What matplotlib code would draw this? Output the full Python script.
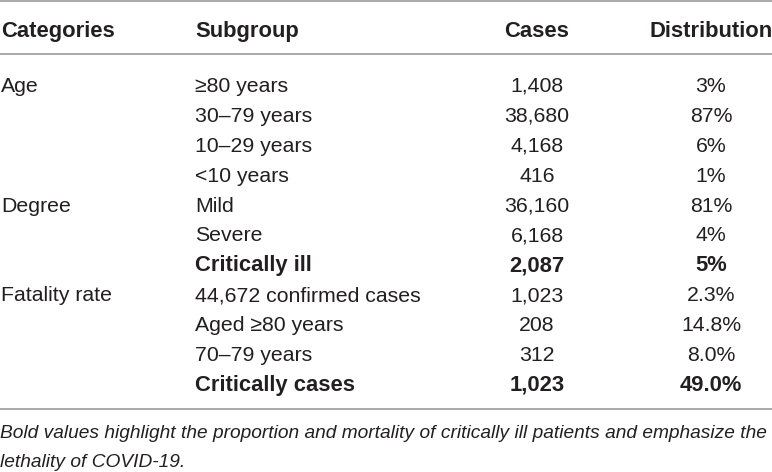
import matplotlib
matplotlib.use('Agg')
import matplotlib.pyplot as plt
from matplotlib import font_manager

# Table content
headers = ['Categories', 'Subgroup', 'Cases', 'Distribution']
categories = ['Age', '', '', '', 'Degree', '', '', 'Fatality rate', '', '', '']
subgroups = ['≥80 years', '30–79 years', '10–29 years', '<10 years',
             'Mild', 'Severe', 'Critically ill',
             '44,672 confirmed cases', 'Aged ≥80 years', '70–79 years', 'Critically cases']
cases = ['1,408', '38,680', '4,168', '416', '36,160', '6,168', '2,087',
         '1,023', '208', '312', '1,023']
distribution = ['3%', '87%', '6%', '1%', '81%', '4%', '5%',
                '2.3%', '14.8%', '8.0%', '49.0%']
bold_rows = [6, 10]
footnote = ['Bold values highlight the proportion and mortality of critically ill patients and emphasize the',
            'lethality of COVID-19.']

names = {f.name for f in font_manager.fontManager.ttflist}
body_font = 'Liberation Sans'
note_font = 'Liberation Sans Narrow' if 'Liberation Sans Narrow' in names else 'Liberation Sans'

txt_clr = '#231f20'
rule_clr = '#a3a3a3'
fs = 15.3      # regular body text
fs_b = 15.8    # bold text

W, H = 772, 472
fig = plt.figure(figsize=(W / 100, H / 100), dpi=100)
ax = fig.add_axes([0, 0, 1, 1])
ax.set_xlim(0, W)
ax.set_ylim(H, 0)
ax.axis('off')

# columns: x position and alignment
col_x = [1, 195, 537, 711]
col_ha = ['left', 'left', 'center', 'center']

# rules
for y in [1, 54, 409]:
    ax.plot([0, W], [y, y], color=rule_clr, lw=1.3, solid_capstyle='butt')

# header
for x, ha, h in zip(col_x, col_ha, headers):
    ax.text(x, 36.7, h, ha=ha, va='baseline', fontsize=fs_b, fontweight='bold',
            family=body_font, color=txt_clr)

# body rows
y0, dy = 92.0, 29.88
for i in range(len(subgroups)):
    y = y0 + i * dy
    bold = i in bold_rows
    ax.text(col_x[0], y, categories[i], ha='left', va='baseline', fontsize=fs,
            family=body_font, color=txt_clr)
    for x, ha, val in zip(col_x[1:], col_ha[1:], [subgroups[i], cases[i], distribution[i]]):
        ax.text(x, y, val, ha=ha, va='baseline', fontsize=fs_b if bold else fs,
                fontweight='bold' if bold else 'normal', family=body_font, color=txt_clr)

# footnote, sized so the first line spans the table width
notes = []
for y, line in zip([438, 467], footnote):
    notes.append(ax.text(0, y, line, ha='left', va='baseline', fontsize=fs,
                         style='italic', family=note_font, color=txt_clr))
r = fig.canvas.get_renderer()
w = notes[0].get_window_extent(renderer=r).width
for t in notes:
    t.set_fontsize(fs * 770 / w)

fig.savefig('out.png', dpi=100)
